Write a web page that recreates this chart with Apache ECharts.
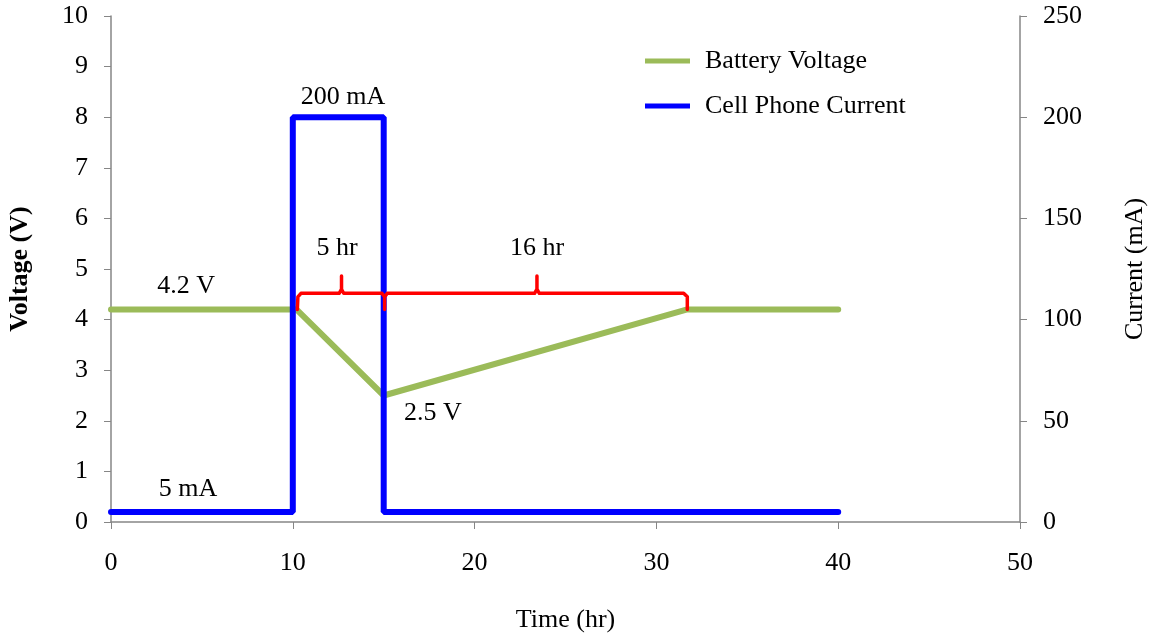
<!DOCTYPE html>
<html>
<head>
<meta charset="utf-8">
<script src="https://cdn.jsdelivr.net/npm/echarts@6/dist/echarts.min.js"></script>
<style>html,body{margin:0;padding:0;background:#fff;}#c{width:1153px;height:634px;}</style>
</head>
<body>
<div id="c"></div>
<script>
// Data
const voltageData = [[0, 4.2], [10.2, 4.2], [15, 2.5], [31.7, 4.2], [40, 4.2]];
const currentData = [[0, 5], [10, 5], [10, 200], [15, 200], [15, 5], [40, 5]];
const braceData = [[10.25, 4.2], [10.28, 4.45], [10.45, 4.52], [12.55, 4.52], [12.68, 4.6], [12.68, 4.86], [12.68, 4.6], [12.8, 4.52], [14.9, 4.52], [15.05, 4.45], [15.05, 4.2], [15.05, 4.45], [15.2, 4.52], [23.3, 4.52], [23.43, 4.6], [23.43, 4.86], [23.43, 4.6], [23.56, 4.52], [31.5, 4.52], [31.7, 4.45], [31.7, 4.2]];
const annotations = [
  {x: 12.76, y: 8.39, text: '200 mA'},
  {x: 4.13, y: 4.66, text: '4.2 V'},
  {x: 17.7, y: 2.16, text: '2.5 V'},
  {x: 4.24, y: 0.65, text: '5 mA'},
  {x: 12.43, y: 5.42, text: '5 hr'},
  {x: 23.43, y: 5.42, text: '16 hr'}
];
const xTicks = {min: 0, max: 50, interval: 10};
const vTicks = {min: 0, max: 10, interval: 1};
const cTicks = {min: 0, max: 250, interval: 50};

const font = 'Liberation Serif';
const fs = 26;
const axisColor = '#868686';
const chart = echarts.init(document.getElementById('c'));
chart.setOption({
  animation: false,
  textStyle: {fontFamily: font},
  grid: {left: 111, right: 133, top: 16, bottom: 112, outerBoundsMode: 'none', containLabel: false},
  legend: {
    data: ['Battery Voltage', 'Cell Phone Current'],
    orient: 'vertical',
    left: 640, top: 43,
    itemWidth: 45, itemHeight: 5, itemGap: 19,
    icon: 'rect',
    textStyle: {fontFamily: font, fontSize: fs, color: '#000', padding: [0, 0, 0, 10]}
  },
  xAxis: {
    type: 'value', min: xTicks.min, max: xTicks.max, interval: xTicks.interval,
    name: 'Time (hr)', nameLocation: 'middle', nameGap: 85,
    nameTextStyle: {fontFamily: font, fontSize: fs, color: '#000'},
    axisLine: {onZero: false, lineStyle: {color: axisColor, width: 1.5}},
    axisTick: {show: true, inside: false, length: 7, lineStyle: {color: axisColor}},
    axisLabel: {fontFamily: font, fontSize: fs, color: '#000', margin: 28},
    splitLine: {show: false}
  },
  yAxis: [{
    type: 'value', min: vTicks.min, max: vTicks.max, interval: vTicks.interval,
    name: 'Voltage (V)', nameLocation: 'middle', nameGap: 78, nameRotate: 90,
    nameTextStyle: {fontFamily: font, fontSize: fs, color: '#000', fontWeight: 'bold'},
    axisLine: {show: true, lineStyle: {color: axisColor, width: 1.5}},
    axisTick: {show: true, length: 7, lineStyle: {color: axisColor}},
    axisLabel: {fontFamily: font, fontSize: fs, color: '#000', margin: 23},
    splitLine: {show: false}
  }, {
    type: 'value', position: 'right', min: cTicks.min, max: cTicks.max, interval: cTicks.interval,
    name: 'Current (mA)', nameLocation: 'middle', nameGap: 102, nameRotate: 90,
    nameTextStyle: {fontFamily: font, fontSize: fs, color: '#000'},
    axisLine: {show: true, lineStyle: {color: axisColor, width: 1.5}},
    axisTick: {show: true, length: 7, lineStyle: {color: axisColor}},
    axisLabel: {fontFamily: font, fontSize: fs, color: '#000', margin: 23},
    splitLine: {show: false}
  }],
  series: [{
    name: 'Battery Voltage', type: 'line', yAxisIndex: 0, data: voltageData,
    symbol: 'none', lineStyle: {color: '#9bbb59', width: 6, cap: 'round'},
    itemStyle: {color: '#9bbb59'}
  }, {
    name: 'Cell Phone Current', type: 'line', yAxisIndex: 1, data: currentData,
    symbol: 'none', lineStyle: {color: '#0000ff', width: 6, cap: 'round'},
    itemStyle: {color: '#0000ff'}
  }, {
    name: 'brace', type: 'line', yAxisIndex: 0, data: braceData,
    symbol: 'none', lineStyle: {color: '#ff0000', width: 3.5, cap: 'round', join: 'round'},
    itemStyle: {color: '#ff0000'}
  }, {
    name: 'labels', type: 'scatter', yAxisIndex: 0, symbolSize: 0,
    itemStyle: {opacity: 1},
    data: annotations.map(a => ({value: [a.x, a.y], text: a.text})),
    label: {show: true, position: 'inside', formatter: p => p.data.text, opacity: 1,
      fontFamily: font, fontSize: fs, color: '#000', textBorderWidth: 0},
    silent: true
  }]
});
</script>
</body>
</html>
